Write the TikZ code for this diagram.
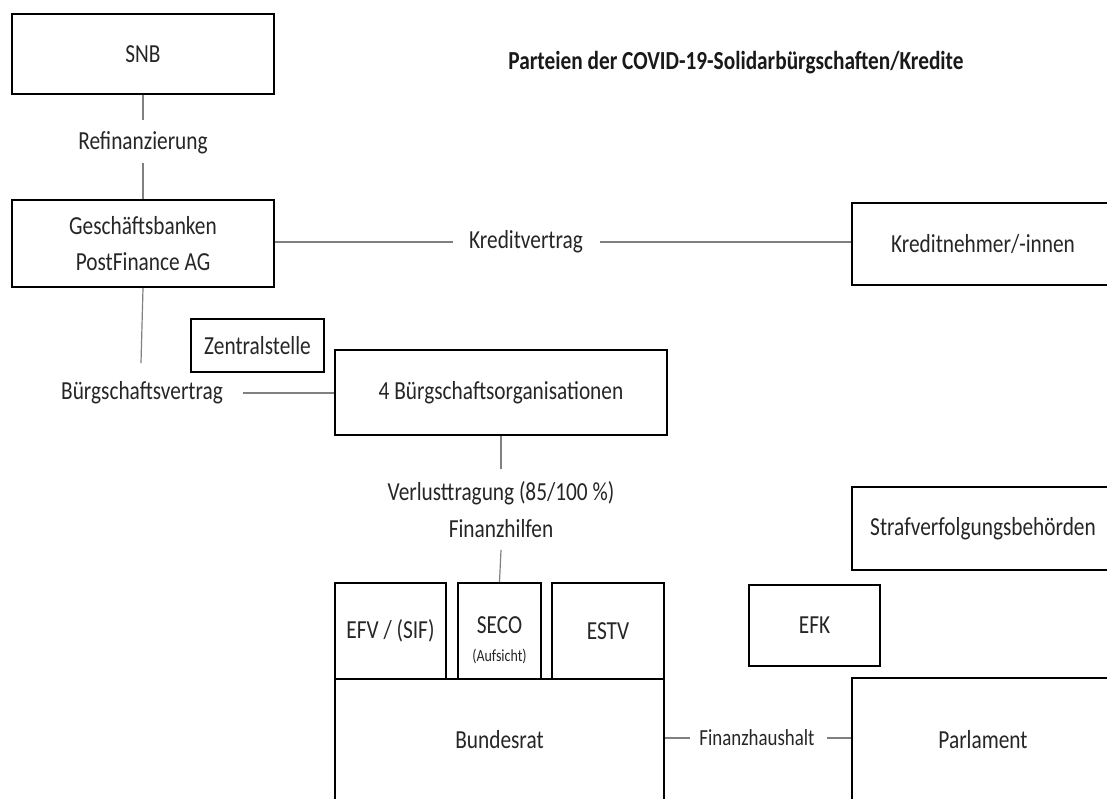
\documentclass[tikz,border=0pt]{standalone}
\usepackage{fontspec}
\setmainfont{Carlito}[FakeStretch=0.82]
\begin{document}
\begin{tikzpicture}[x=1pt,y=-1pt,
  box/.style={draw=black, line width=2.4pt, rectangle, inner sep=0pt, align=center,
    text=black!85, font=\fontsize{26}{36}\selectfont},
  lbl/.style={inner sep=0pt, align=center, text=black!85, font=\fontsize{26}{36}\selectfont},
  conn/.style={draw=black!50, line width=1.2pt}]
\useasboundingbox (0,0) rectangle (1107,798);
\fill[white] (0,0) rectangle (1107,798);
\clip (0,0) rectangle (1107,798);

% title
\node[lbl, font=\bfseries\fontsize{26}{30}\selectfont, text=black!90] (title) at (736,63) {Parteien der COVID-19-Solidarbürgschaften/Kredite};

% boxes
\node[box, minimum width=262pt, minimum height=80pt] (snb) at (143,54) {SNB};
\node[box, minimum width=262pt, minimum height=87pt] (gb) at (143,243.5) {Geschäftsbanken\\PostFinance AG};
\node[box, minimum width=262pt, minimum height=82pt] (kn) at (983,244) {Kreditnehmer/-innen};
\node[box, minimum width=133pt, minimum height=53pt] (zs) at (257.5,345.5) {Zentralstelle};
\node[box, minimum width=332pt, minimum height=85pt] (bo) at (501,392.5) {4 Bürgschaftsorganisationen};
\node[box, minimum width=111pt, minimum height=96pt] (efv) at (390.5,631) {EFV / (SIF)};
\node[box, minimum width=83pt, minimum height=96pt] (seco) at (499.5,631) {};
\node[lbl] (secot) at (499.5,625) {SECO};
\node[lbl, font=\fontsize{17}{18}\selectfont] (secoa) at (499.5,656) {(Aufsicht)};
\node[box, minimum width=112pt, minimum height=96pt] (estv) at (608,631) {ESTV};
\node[box, minimum width=329pt, minimum height=122pt] (br) at (499.5,740) {Bundesrat};
\node[box, minimum width=262pt, minimum height=83pt] (straf) at (983,528.5) {Strafverfolgungsbehörden};
\node[box, minimum width=131pt, minimum height=81pt] (efk) at (814.5,625.5) {EFK};
\node[box, minimum width=262pt, minimum height=124pt] (parl) at (983,740) {Parlament};

% labels
\node[lbl] (refi) at (143,143) {Refinanzierung};
\node[lbl] (kv) at (526,242) {Kreditvertrag};
\node[lbl] (bv) at (142,393) {Bürgschaftsvertrag};
\node[lbl] (verl) at (501,493) {Verlusttragung (85/100 \%)};
\node[lbl] (finz) at (501,529) {Finanzhilfen};
\node[lbl, font=\fontsize{23}{28}\selectfont] (fh) at (757,738) {Finanzhaushalt};

% connectors
\draw[conn] (snb.south) -- ([yshift=23pt]refi.center);
\draw[conn] ([yshift=-20pt]refi.center) -- (gb.north);
\draw[conn] (gb.east |- kv.center) -- ([xshift=-73pt]kv.center);
\draw[conn] ([xshift=74pt]kv.center) -- (kn.west |- kv.center);
\draw[conn] (gb.south) -- ([yshift=30pt,xshift=-1pt]bv.center);
\draw[conn] ([xshift=101pt]bv.center) -- (bo.west |- bv.center);
\draw[conn] (bo.south) -- ([yshift=24pt]verl.center);
\draw[conn] ([yshift=-21pt]finz.center) -- (seco.north);
\draw[conn] (br.east |- fh.center) -- ([xshift=-67pt]fh.center);
\draw[conn] ([xshift=70pt]fh.center) -- (parl.west |- fh.center);
\end{tikzpicture}
\end{document}
